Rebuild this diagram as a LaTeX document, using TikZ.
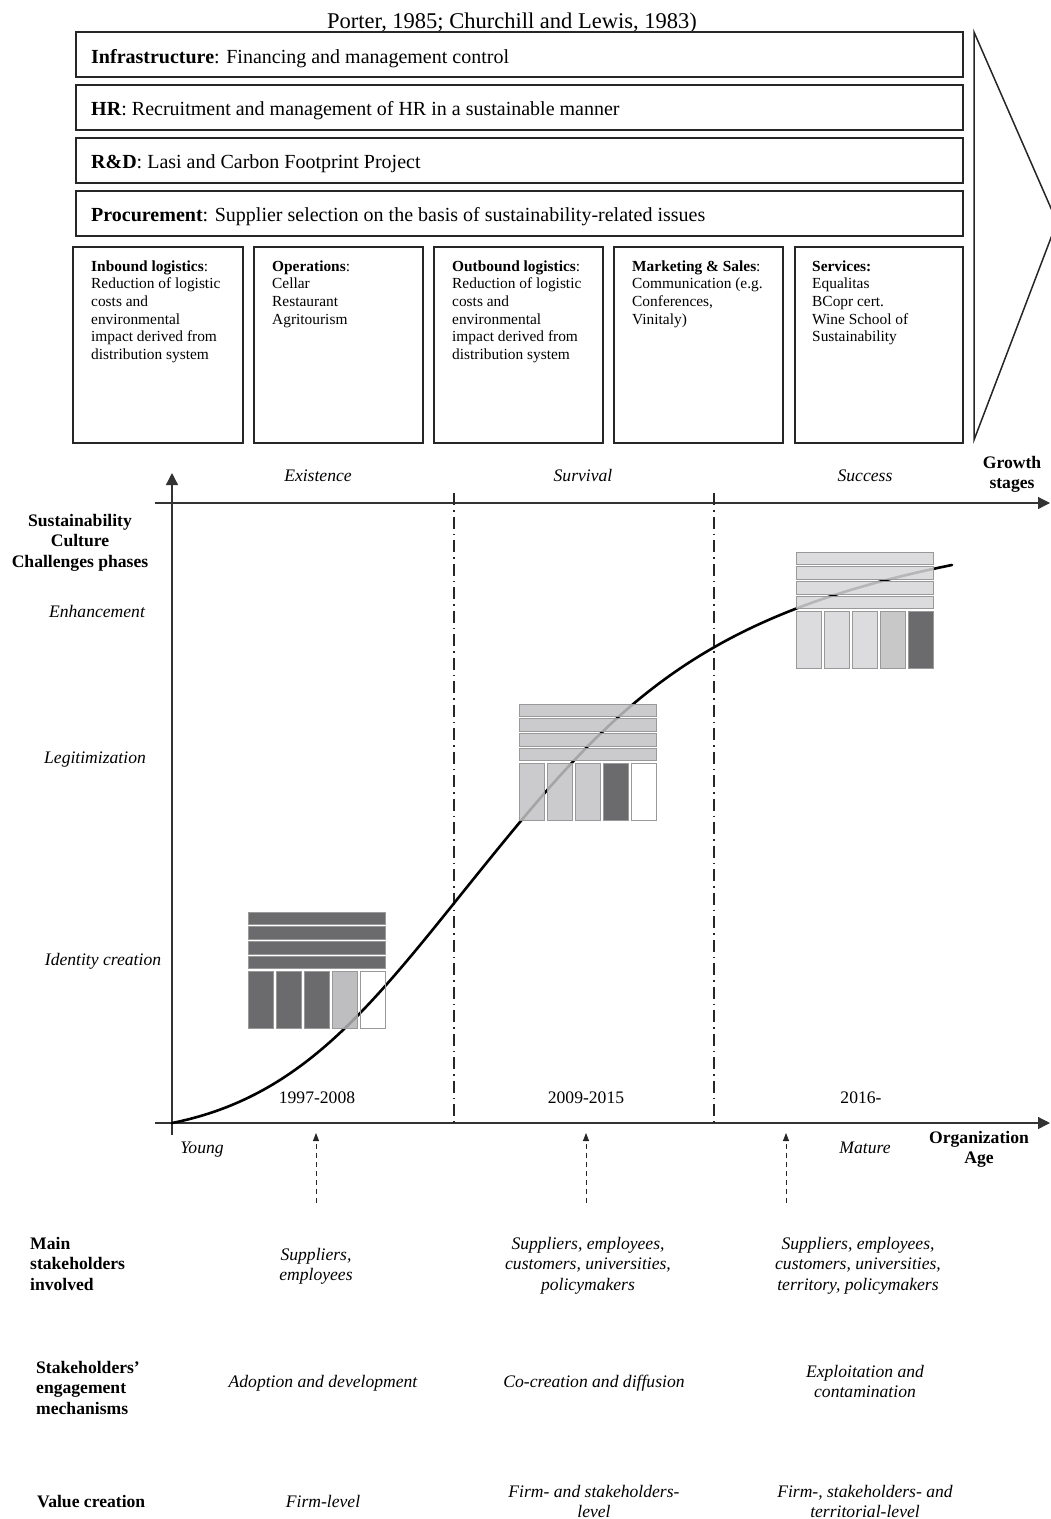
\documentclass[tikz,border=0pt]{standalone}
\usepackage{fontspec}
\setmainfont{Liberation Serif}
\usetikzlibrary{arrows.meta}

\definecolor{celldark}{HTML}{515153}
\definecolor{cellmid}{HTML}{B3B3B5}
\definecolor{celllight}{HTML}{C2C2C4}
\definecolor{cellpale}{HTML}{D6D6D8}
\definecolor{cellgrey}{HTML}{BEBEC0}

\newcommand{\topfont}{\fontsize{20}{24}\selectfont}
\newcommand{\primfont}{\fontsize{15.4}{17.6}\selectfont}
\newcommand{\chartfont}{\fontsize{17.6}{20.5}\selectfont}

\tikzset{
	every node/.style={inner sep=0pt},
	topbox/.style={draw=black!85, line width=1.8pt},
	primbox/.style={draw=black!85, line width=1.5pt},
	toptext/.style={anchor=base west, font=\topfont},
	primtext/.style={anchor=north west, align=left, font=\primfont},
	chartlabel/.style={font=\chartfont},
	axis/.style={draw=black!80, line width=1.3pt, -{Triangle[length=12pt, width=12pt]}},
	stageline/.style={draw=black!85, line width=1.5pt, dash pattern=on 12pt off 5pt on 1.5pt off 5pt},
	growth/.style={line width=2.6pt, line cap=round},
	cell/.style={draw=black!40, line width=0.8pt, fill opacity=0.85},
	link/.style={draw=black!85, line width=0.8pt, dash pattern=on 5pt off 4pt, -{Triangle[length=8pt, width=6pt]}}
}

% value chain in miniature: x, y, row fill, five column fills
\newcommand{\chainstack}[8]{%
	\foreach \r in {0,...,3}
		\draw[cell, fill=#3] (#1,#2+14.7*\r) rectangle +(137,12.5);
	\foreach \f [count=\c from 0] in {#4,#5,#6,#7,#8}
		\draw[cell, fill=\f] (#1+28*\c,#2+59) rectangle +(25.5,57);
}

\begin{document}
\begin{tikzpicture}[x=1pt,y=-1pt]
			\useasboundingbox (0,0) rectangle (1051,1519);
			\node[anchor=base, font=\fontsize{22.5}{26}\selectfont] (source) at (512,28) {Porter, 1985; Churchill and Lewis, 1983)};

			% support activities
			\draw[topbox] (76,32) rectangle (963,77);
			\draw[topbox] (76,85) rectangle (963,130);
			\draw[topbox] (76,138) rectangle (963,183);
			\draw[topbox] (76,191) rectangle (963,236);
			\node[toptext] (infra) at (91,63) {\textbf{Infrastructure}: Financing and management control};
			\node[toptext] (hr) at (91,115) {\textbf{HR}: Recruitment and management of HR in a sustainable manner};
			\node[toptext] (rd) at (91,168) {\textbf{R\&D}: Lasi and Carbon Footprint Project};
			\node[toptext] (procure) at (91,221) {\textbf{Procurement}: Supplier selection on the basis of sustainability-related issues};

			% primary activities
			\draw[primbox] (73,247) rectangle (243,443);
			\draw[primbox] (254,247) rectangle (423,443);
			\draw[primbox] (434,247) rectangle (603,443);
			\draw[primbox] (614,247) rectangle (783,443);
			\draw[primbox] (795,247) rectangle (963,443);
			\node[primtext] (inbound) at (91,260.5) {\textbf{Inbound logistics}:\\Reduction of logistic\\costs and\\environmental\\impact derived from\\distribution system};
			\node[primtext] (operations) at (272,260.5) {\textbf{Operations}:\\Cellar\\Restaurant\\Agritourism};
			\node[primtext] (outbound) at (452,260.5) {\textbf{Outbound logistics}:\\Reduction of logistic\\costs and\\environmental\\impact derived from\\distribution system};
			\node[primtext] (marketing) at (632,260.5) {\textbf{Marketing \& Sales}:\\Communication (e.g.\\Conferences,\\Vinitaly)};
			\node[primtext] (services) at (812,260.5) {\textbf{Services:}\\Equalitas\\BCopr cert.\\Wine School of\\Sustainability};

			% margin
			\begin{scope}
				\clip (0,0) rectangle (1051,1519);
				\draw[primbox] (974,32) -- (1057,222) -- (974,440) -- cycle;
			\end{scope}

			% axes
			\coordinate (Ybot) at (172,1135);
			\coordinate (Ytop) at (172,473);
			\coordinate (Gleft) at (155,503);
			\coordinate (Gright) at (1050,503);
			\coordinate (Aleft) at (155,1123);
			\coordinate (Aright) at (1050,1123);
			\draw[axis] (Ybot) -- (Ytop);
			\draw[axis] (Gleft) -- (Gright);
			\draw[axis] (Aleft) -- (Aright);
			\draw[stageline] (454,493) -- (454,1125);
			\draw[stageline] (714,493) -- (714,1125);

			\draw[growth] (172,1123) .. controls (322,1093) and (390,978) .. (520,822) .. controls (630,690) and (722,611) .. (952,565);

			\chainstack{248}{912}{celldark}{celldark}{celldark}{celldark}{cellmid}{none}
			\chainstack{519}{704}{celllight}{celllight}{celllight}{celllight}{celldark}{none}
			\chainstack{796}{552}{cellpale}{cellpale}{cellpale}{cellpale}{cellgrey}{celldark}

			% axis labels
			\node[chartlabel, anchor=north, align=center, font=\chartfont\bfseries] (culture) at (80,514) {Sustainability\\Culture\\Challenges phases};
			\node[chartlabel, anchor=north, align=center, font=\chartfont\bfseries] (stages) at (1012,456) {Growth\\stages};
			\node[chartlabel, anchor=north, align=center, font=\chartfont\bfseries] (age) at (979,1131) {Organization\\Age};
			\node[chartlabel, anchor=base] (enh) at (97,617) {\itshape Enhancement};
			\node[chartlabel, anchor=base] (legit) at (95,763) {\itshape Legitimization};
			\node[chartlabel, anchor=base] (ident) at (103,965) {\itshape Identity creation};
			\node[chartlabel, anchor=base] (exist) at (318,481) {\itshape Existence};
			\node[chartlabel, anchor=base] (surv) at (583,481) {\itshape Survival};
			\node[chartlabel, anchor=base] (succ) at (865,481) {\itshape Success};
			\node[chartlabel, anchor=base] (yrA) at (317,1103) {1997-2008};
			\node[chartlabel, anchor=base] (yrB) at (586,1103) {2009-2015};
			\node[chartlabel, anchor=base] (yrC) at (861,1103) {2016-};
			\node[chartlabel, anchor=base] (young) at (202,1153) {\itshape Young};
			\node[chartlabel, anchor=base] (mature) at (865,1153) {\itshape Mature};

			% stakeholders
			\foreach \x/\n in {316/A,586/B,786/C} {
				\coordinate (low\n) at (\x,1203);
				\coordinate (up\n) at (\x,1133);
				\draw[link] (low\n) -- (up\n);
			}

			\node[chartlabel, anchor=north west, align=left, font=\chartfont\bfseries] (mainrow) at (30,1237) {Main\\stakeholders\\involved};
			\node[chartlabel, anchor=north west, align=left, font=\chartfont\bfseries] (engrow) at (36,1361) {Stakeholders'\\engagement\\mechanisms};
			\node[chartlabel, anchor=base west, font=\chartfont\bfseries] (valrow) at (37,1507) {Value creation};

			\node[chartlabel, anchor=north, align=center, font=\chartfont\itshape] (mainA) at (316,1248) {Suppliers,\\employees};
			\node[chartlabel, anchor=north, align=center, font=\chartfont\itshape] (mainB) at (588,1237) {Suppliers, employees,\\customers, universities,\\policymakers};
			\node[chartlabel, anchor=north, align=center, font=\chartfont\itshape] (mainC) at (858,1237) {Suppliers, employees,\\customers, universities,\\territory, policymakers};

			\node[chartlabel, anchor=base] (engA) at (323,1387) {\itshape Adoption and development};
			\node[chartlabel, anchor=base] (engB) at (594,1387) {\itshape Co-creation and diffusion};
			\node[chartlabel, anchor=north, align=center, font=\chartfont\itshape] (engC) at (865,1365) {Exploitation and\\contamination};

			\node[chartlabel, anchor=base] (valA) at (323,1507) {\itshape Firm-level};
			\node[chartlabel, anchor=north, align=center, font=\chartfont\itshape] (valB) at (594,1485) {Firm- and stakeholders-\\level};
			\node[chartlabel, anchor=north, align=center, font=\chartfont\itshape] (valC) at (865,1485) {Firm-, stakeholders- and\\territorial-level};
		\end{tikzpicture}
\end{document}
